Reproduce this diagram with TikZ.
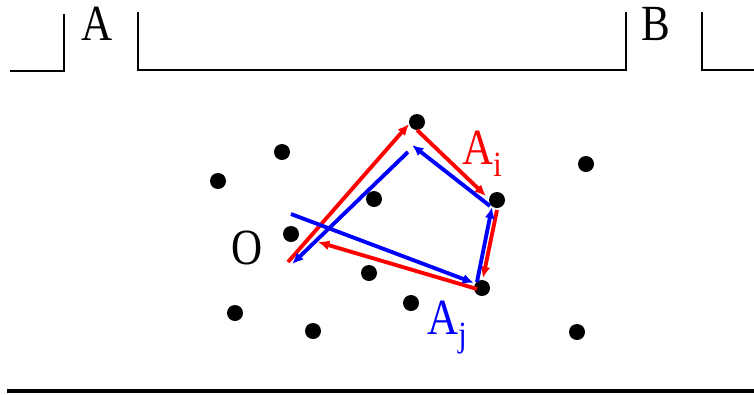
\documentclass[tikz,border=0pt]{standalone}
\usepackage{fontspec}
\setmainfont[FakeStretch=0.85]{Liberation Serif}
\usetikzlibrary{arrows.meta}
\begin{document}
\begin{tikzpicture}[x=0.75pt,y=-0.75pt,
  dot/.style={circle,fill=black,inner sep=0pt,minimum size=12pt},
  wall/.style={line width=1.6pt,line join=miter},
  lbl/.style={inner sep=0pt,font=\fontsize{38}{40}\selectfont},
  redarr/.style={red,line width=2.9pt,-{Latex[length=8.5pt,width=7.5pt]}},
  bluearr/.style={blue,line width=2.9pt,-{Latex[length=8.5pt,width=7.5pt]}}]
\useasboundingbox (0,0) rectangle (754,394);
% walls
\draw[wall] (10,71) -- (64,71) -- (64,14);
\draw[wall] (138,12) -- (138,70) -- (626,70) -- (626,12);
\draw[wall] (702,12) -- (702,70) -- (754,70);
\draw[line width=3pt] (7,391) -- (754,391);
\node[lbl] (A) at (97,24) {A};
\node[lbl] (B) at (656,24) {B};
% dots
\node[dot] (d1) at (282,152) {};
\node[dot] (d2) at (218,181) {};
\node[dot] (d3) at (374,199) {};
\node[dot] (d4) at (291,234) {};
\node[dot] (d5) at (369,273) {};
\node[dot] (d6) at (411,303) {};
\node[dot] (d7) at (235,313) {};
\node[dot] (d8) at (313,331) {};
\node[dot] (d9) at (577,332) {};
\node[dot] (d10) at (586,164) {};
\node[dot] (top) at (417,122) {};
\node[dot] (ai) at (497,200) {};
\node[dot] (aj) at (482,288) {};
% labels
\node[lbl] (O) at (247,248) {O};
\node[lbl,red,anchor=base west] (Ai) at (462,164) {A\textsubscript{i}};
\node[lbl,blue,anchor=base west] (Aj) at (427,334) {A\textsubscript{j}};
% red path coordinates
\coordinate (r0) at (288,262);
\coordinate (r1) at (409,124);
\coordinate (r2) at (417,130);
\coordinate (r3) at (486,196);
\coordinate (r4) at (497,210);
\coordinate (r5) at (483,278);
\coordinate (r6) at (477,289);
\coordinate (r7) at (318,242);
% blue path coordinates
\coordinate (b0) at (291,214);
\coordinate (b1) at (474,283);
\coordinate (b2) at (477,282);
\coordinate (b3) at (492,207);
\coordinate (b4) at (490,206);
\coordinate (b5) at (412,145);
\coordinate (b6) at (408,152);
\coordinate (b7) at (292,264);
\draw[redarr] (r0) -- (r1);
\draw[redarr] (r2) -- (r3);
\draw[redarr] (r4) -- (r5);
\draw[redarr] (r6) -- (r7);
\draw[bluearr] (b0) -- (b1);
\draw[bluearr] (b2) -- (b3);
\draw[bluearr] (b4) -- (b5);
\draw[bluearr] (b6) -- (b7);
\end{tikzpicture}
\end{document}
